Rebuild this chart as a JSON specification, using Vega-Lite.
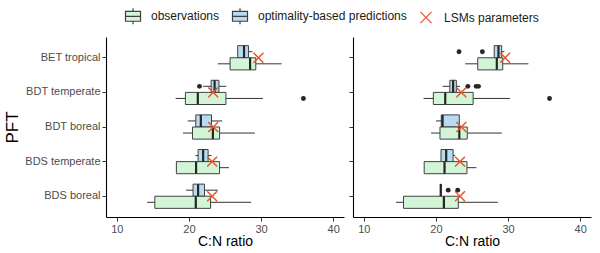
{
  "$schema": "https://vega.github.io/schema/vega-lite/v6.json",
  "padding": {"left": 3, "top": 7, "right": 5, "bottom": 3},
  "datasets": {
    "box": [
      {"panel": "a", "pft": "BET tropical", "series": "optimality-based predictions", "lo": 26.76, "q1": 26.76, "med": 27.64, "q3": 28.25, "hi": 28.8},
      {"panel": "a", "pft": "BET tropical", "series": "observations", "lo": 24.0, "q1": 25.7, "med": 28.48, "q3": 29.27, "hi": 32.85},
      {"panel": "a", "pft": "BDT temperate", "series": "optimality-based predictions", "lo": 21.97, "q1": 23.08, "med": 23.56, "q3": 24.16, "hi": 25.17},
      {"panel": "a", "pft": "BDT temperate", "series": "observations", "lo": 18.16, "q1": 19.51, "med": 21.23, "q3": 25.13, "hi": 30.25},
      {"panel": "a", "pft": "BDT boreal", "series": "optimality-based predictions", "lo": 19.83, "q1": 20.95, "med": 21.65, "q3": 23.13, "hi": 24.62},
      {"panel": "a", "pft": "BDT boreal", "series": "observations", "lo": 19.18, "q1": 20.49, "med": 23.32, "q3": 24.25, "hi": 29.13},
      {"panel": "a", "pft": "BDS temperate", "series": "optimality-based predictions", "lo": 20.9, "q1": 21.27, "med": 21.97, "q3": 22.66, "hi": 23.13},
      {"panel": "a", "pft": "BDS temperate", "series": "observations", "lo": 18.26, "q1": 18.26, "med": 20.99, "q3": 24.25, "hi": 25.55},
      {"panel": "a", "pft": "BDS boreal", "series": "optimality-based predictions", "lo": 19.6, "q1": 20.57, "med": 21.27, "q3": 22.16, "hi": 24.0},
      {"panel": "a", "pft": "BDS boreal", "series": "observations", "lo": 14.2, "q1": 15.27, "med": 20.95, "q3": 23.0, "hi": 28.62},
      {"panel": "b", "pft": "BET tropical", "series": "optimality-based predictions", "lo": 28.08, "q1": 28.08, "med": 28.67, "q3": 29.12, "hi": 29.49},
      {"panel": "b", "pft": "BET tropical", "series": "observations", "lo": 24.06, "q1": 25.8, "med": 28.44, "q3": 29.26, "hi": 32.82},
      {"panel": "b", "pft": "BDT temperate", "series": "optimality-based predictions", "lo": 20.92, "q1": 21.93, "med": 22.38, "q3": 22.83, "hi": 23.34},
      {"panel": "b", "pft": "BDT temperate", "series": "observations", "lo": 18.28, "q1": 19.64, "med": 21.29, "q3": 25.16, "hi": 30.27},
      {"panel": "b", "pft": "BDT boreal", "series": "optimality-based predictions", "lo": 20.01, "q1": 20.74, "med": 20.92, "q3": 23.24, "hi": 23.24},
      {"panel": "b", "pft": "BDT boreal", "series": "observations", "lo": 19.33, "q1": 20.56, "med": 23.24, "q3": 24.34, "hi": 29.12},
      {"panel": "b", "pft": "BDS temperate", "series": "optimality-based predictions", "lo": 20.7, "q1": 20.7, "med": 21.42, "q3": 22.38, "hi": 22.65},
      {"panel": "b", "pft": "BDS temperate", "series": "observations", "lo": 18.37, "q1": 18.37, "med": 21.19, "q3": 24.3, "hi": 25.62},
      {"panel": "b", "pft": "BDS boreal", "series": "optimality-based predictions", "lo": 20.6, "q1": 20.62, "med": 20.67, "q3": 20.72, "hi": 20.75},
      {"panel": "b", "pft": "BDS boreal", "series": "observations", "lo": 14.45, "q1": 15.5, "med": 21.1, "q3": 23.1, "hi": 28.58}
    ],
    "out": [
      {"panel": "a", "pft": "BDT temperate", "series": "optimality-based predictions", "value": 21.46},
      {"panel": "a", "pft": "BDT temperate", "series": "observations", "value": 35.87},
      {"panel": "b", "pft": "BET tropical", "series": "optimality-based predictions", "value": 23.2},
      {"panel": "b", "pft": "BET tropical", "series": "optimality-based predictions", "value": 26.44},
      {"panel": "b", "pft": "BDT temperate", "series": "optimality-based predictions", "value": 24.43},
      {"panel": "b", "pft": "BDT temperate", "series": "optimality-based predictions", "value": 25.57},
      {"panel": "b", "pft": "BDT temperate", "series": "optimality-based predictions", "value": 25.9},
      {"panel": "b", "pft": "BDT temperate", "series": "observations", "value": 35.75},
      {"panel": "b", "pft": "BDS boreal", "series": "optimality-based predictions", "value": 21.7},
      {"panel": "b", "pft": "BDS boreal", "series": "optimality-based predictions", "value": 23.02}
    ],
    "lsm": [
      {"panel": "a", "pft": "BET tropical", "series": "LSMs parameters", "value": 29.64},
      {"panel": "a", "pft": "BDT temperate", "series": "LSMs parameters", "value": 23.36},
      {"panel": "a", "pft": "BDT boreal", "series": "LSMs parameters", "value": 23.36},
      {"panel": "a", "pft": "BDS temperate", "series": "LSMs parameters", "value": 23.22},
      {"panel": "a", "pft": "BDS boreal", "series": "LSMs parameters", "value": 23.22},
      {"panel": "b", "pft": "BET tropical", "series": "LSMs parameters", "value": 29.59},
      {"panel": "b", "pft": "BDT temperate", "series": "LSMs parameters", "value": 23.52},
      {"panel": "b", "pft": "BDT boreal", "series": "LSMs parameters", "value": 23.52},
      {"panel": "b", "pft": "BDS temperate", "series": "LSMs parameters", "value": 23.34},
      {"panel": "b", "pft": "BDS boreal", "series": "LSMs parameters", "value": 23.34}
    ]
  },
  "spacing": 4,
  "hconcat": [
    {
      "width": 238,
      "height": 180,
      "layer": [
        {
          "data": {"name": "box"},
          "transform": [{"filter": "datum.panel === 'a'"}],
          "mark": {"type": "rule", "color": "#333333", "strokeWidth": 1},
          "encoding": {
            "y": {"field": "pft", "type": "nominal", "sort": ["BET tropical", "BDT temperate", "BDT boreal", "BDS temperate", "BDS boreal"], "scale": {"paddingInner": 0.3, "paddingOuter": 0.25}, "axis": {"title": "PFT"}},
            "yOffset": {"field": "series", "type": "nominal", "sort": ["optimality-based predictions", "observations"], "scale": {"paddingInner": 0, "paddingOuter": 0}},
            "x": {"field": "lo", "type": "quantitative", "scale": {"domain": [8.5, 41.5], "nice": false, "zero": false}, "axis": {"title": "C:N ratio", "values": [10, 20, 30, 40]}},
            "x2": {"field": "hi"}
          }
        },
        {
          "data": {"name": "box"},
          "transform": [{"filter": "datum.panel === 'a'"}],
          "mark": {"type": "bar", "strokeWidth": 1},
          "encoding": {
            "y": {"field": "pft", "type": "nominal", "sort": ["BET tropical", "BDT temperate", "BDT boreal", "BDS temperate", "BDS boreal"]},
            "yOffset": {"field": "series", "type": "nominal", "sort": ["optimality-based predictions", "observations"]},
            "x": {"field": "q1", "type": "quantitative"},
            "x2": {"field": "q3"},
            "fill": {"field": "series", "type": "nominal", "scale": {"domain": ["observations", "optimality-based predictions", "LSMs parameters"], "range": ["#d2f5d8", "#b8dbf1", "transparent"]}, "legend": {"title": null, "orient": "none", "legendX": 18, "legendY": -30}},
            "stroke": {"field": "series", "type": "nominal", "scale": {"domain": ["observations", "optimality-based predictions", "LSMs parameters"], "range": ["#404040", "#404040", "#e8542c"]}, "legend": {"title": null, "orient": "none", "legendX": 18, "legendY": -30}}
          }
        },
        {
          "data": {"name": "box"},
          "transform": [{"filter": "datum.panel === 'a'"}],
          "mark": {"type": "tick", "color": "#262626", "thickness": 2.2, "size": 12, "opacity": 1},
          "encoding": {
            "y": {"field": "pft", "type": "nominal", "sort": ["BET tropical", "BDT temperate", "BDT boreal", "BDS temperate", "BDS boreal"]},
            "yOffset": {"field": "series", "type": "nominal", "sort": ["optimality-based predictions", "observations"]},
            "x": {"field": "med", "type": "quantitative"}
          }
        },
        {
          "data": {"name": "out"},
          "transform": [{"filter": "datum.panel === 'a'"}],
          "mark": {"type": "circle", "color": "#262626", "size": 24, "opacity": 1},
          "encoding": {
            "y": {"field": "pft", "type": "nominal", "sort": ["BET tropical", "BDT temperate", "BDT boreal", "BDS temperate", "BDS boreal"]},
            "yOffset": {"field": "series", "type": "nominal", "sort": ["optimality-based predictions", "observations"]},
            "x": {"field": "value", "type": "quantitative"}
          }
        },
        {
          "data": {"name": "lsm"},
          "transform": [{"filter": "datum.panel === 'a'"}],
          "mark": {"type": "point", "filled": false, "strokeWidth": 1.5, "size": 200, "opacity": 1},
          "encoding": {
            "y": {"field": "pft", "type": "nominal", "sort": ["BET tropical", "BDT temperate", "BDT boreal", "BDS temperate", "BDS boreal"]},
            "x": {"field": "value", "type": "quantitative"},
            "shape": {"field": "series", "type": "nominal", "scale": {"domain": ["observations", "optimality-based predictions", "LSMs parameters"], "range": ["M-0.94,-0.62H0.94V0.62H-0.94Z M0,-1V-0.62 M0,0.62V1 M-0.94,0H0.94", "M-0.94,-0.62H0.94V0.62H-0.94Z M0,-1V-0.62 M0,0.62V1 M-0.94,0H0.94", "M-0.7,-0.7L0.7,0.7M0.7,-0.7L-0.7,0.7"]}, "legend": {"title": null, "orient": "none", "legendX": 18, "legendY": -30}},
            "stroke": {"field": "series", "type": "nominal", "legend": {"title": null, "orient": "none", "legendX": 18, "legendY": -30}}
          }
        },
        {
          "mark": {"type": "text", "align": "left", "baseline": "bottom", "fontSize": 11, "color": "#000000"},
          "encoding": {
            "x": {"datum": 9.1},
            "y": {"datum": "BET tropical"},
            "yOffset": {"datum": "optimality-based predictions"},
            "text": {"value": "(a)"}
          }
        }
      ]
    },
    {
      "width": 238,
      "height": 180,
      "layer": [
        {
          "data": {"name": "box"},
          "transform": [{"filter": "datum.panel === 'b'"}],
          "mark": {"type": "rule", "color": "#333333", "strokeWidth": 1},
          "encoding": {
            "y": {"field": "pft", "type": "nominal", "sort": ["BET tropical", "BDT temperate", "BDT boreal", "BDS temperate", "BDS boreal"], "scale": {"paddingInner": 0.3, "paddingOuter": 0.25}, "axis": {"title": null, "labels": false}},
            "yOffset": {"field": "series", "type": "nominal", "sort": ["optimality-based predictions", "observations"], "scale": {"paddingInner": 0, "paddingOuter": 0}},
            "x": {"field": "lo", "type": "quantitative", "scale": {"domain": [8.5, 41.5], "nice": false, "zero": false}, "axis": {"title": "C:N ratio", "values": [10, 20, 30, 40]}},
            "x2": {"field": "hi"}
          }
        },
        {
          "data": {"name": "box"},
          "transform": [{"filter": "datum.panel === 'b'"}],
          "mark": {"type": "bar", "strokeWidth": 1},
          "encoding": {
            "y": {"field": "pft", "type": "nominal", "sort": ["BET tropical", "BDT temperate", "BDT boreal", "BDS temperate", "BDS boreal"]},
            "yOffset": {"field": "series", "type": "nominal", "sort": ["optimality-based predictions", "observations"]},
            "x": {"field": "q1", "type": "quantitative"},
            "x2": {"field": "q3"},
            "fill": {"field": "series", "type": "nominal", "legend": {"title": null, "orient": "none", "legendX": 18, "legendY": -30}},
            "stroke": {"field": "series", "type": "nominal", "legend": {"title": null, "orient": "none", "legendX": 18, "legendY": -30}}
          }
        },
        {
          "data": {"name": "box"},
          "transform": [{"filter": "datum.panel === 'b'"}],
          "mark": {"type": "tick", "color": "#262626", "thickness": 2.2, "size": 12, "opacity": 1},
          "encoding": {
            "y": {"field": "pft", "type": "nominal", "sort": ["BET tropical", "BDT temperate", "BDT boreal", "BDS temperate", "BDS boreal"]},
            "yOffset": {"field": "series", "type": "nominal", "sort": ["optimality-based predictions", "observations"]},
            "x": {"field": "med", "type": "quantitative"}
          }
        },
        {
          "data": {"name": "out"},
          "transform": [{"filter": "datum.panel === 'b'"}],
          "mark": {"type": "circle", "color": "#262626", "size": 24, "opacity": 1},
          "encoding": {
            "y": {"field": "pft", "type": "nominal", "sort": ["BET tropical", "BDT temperate", "BDT boreal", "BDS temperate", "BDS boreal"]},
            "yOffset": {"field": "series", "type": "nominal", "sort": ["optimality-based predictions", "observations"]},
            "x": {"field": "value", "type": "quantitative"}
          }
        },
        {
          "data": {"name": "lsm"},
          "transform": [{"filter": "datum.panel === 'b'"}],
          "mark": {"type": "point", "filled": false, "strokeWidth": 1.5, "size": 200, "opacity": 1},
          "encoding": {
            "y": {"field": "pft", "type": "nominal", "sort": ["BET tropical", "BDT temperate", "BDT boreal", "BDS temperate", "BDS boreal"]},
            "x": {"field": "value", "type": "quantitative"},
            "shape": {"field": "series", "type": "nominal", "legend": {"title": null, "orient": "none", "legendX": 18, "legendY": -30}},
            "stroke": {"field": "series", "type": "nominal", "legend": {"title": null, "orient": "none", "legendX": 18, "legendY": -30}}
          }
        },
        {
          "mark": {"type": "text", "align": "left", "baseline": "bottom", "fontSize": 11, "color": "#000000"},
          "encoding": {
            "x": {"datum": 9.1},
            "y": {"datum": "BET tropical"},
            "yOffset": {"datum": "optimality-based predictions"},
            "text": {"value": "(b)"}
          }
        }
      ]
    }
  ],
  "config": {
    "font": "Liberation Sans",
    "view": {"stroke": null},
    "axis": {
      "grid": false,
      "domainColor": "#000000",
      "domainWidth": 1.1,
      "tickColor": "#333333",
      "tickSize": 4,
      "tickWidth": 1,
      "labelColor": "#4d4d4d",
      "labelFontSize": 11,
      "labelPadding": 2,
      "titleColor": "#000000",
      "titleFontWeight": "normal"
    },
    "axisX": {"titleFontSize": 14, "titlePadding": 0, "labelAngle": 0},
    "axisY": {"titleFontSize": 17, "titlePadding": 3},
    "legend": {
      "orient": "none",
      "direction": "horizontal",
      "labelFontSize": 12,
      "labelColor": "#1a1a1a",
      "symbolSize": 256,
      "symbolStrokeWidth": 1.2,
      "labelOffset": 9,
      "columnPadding": 10
    }
  }
}
